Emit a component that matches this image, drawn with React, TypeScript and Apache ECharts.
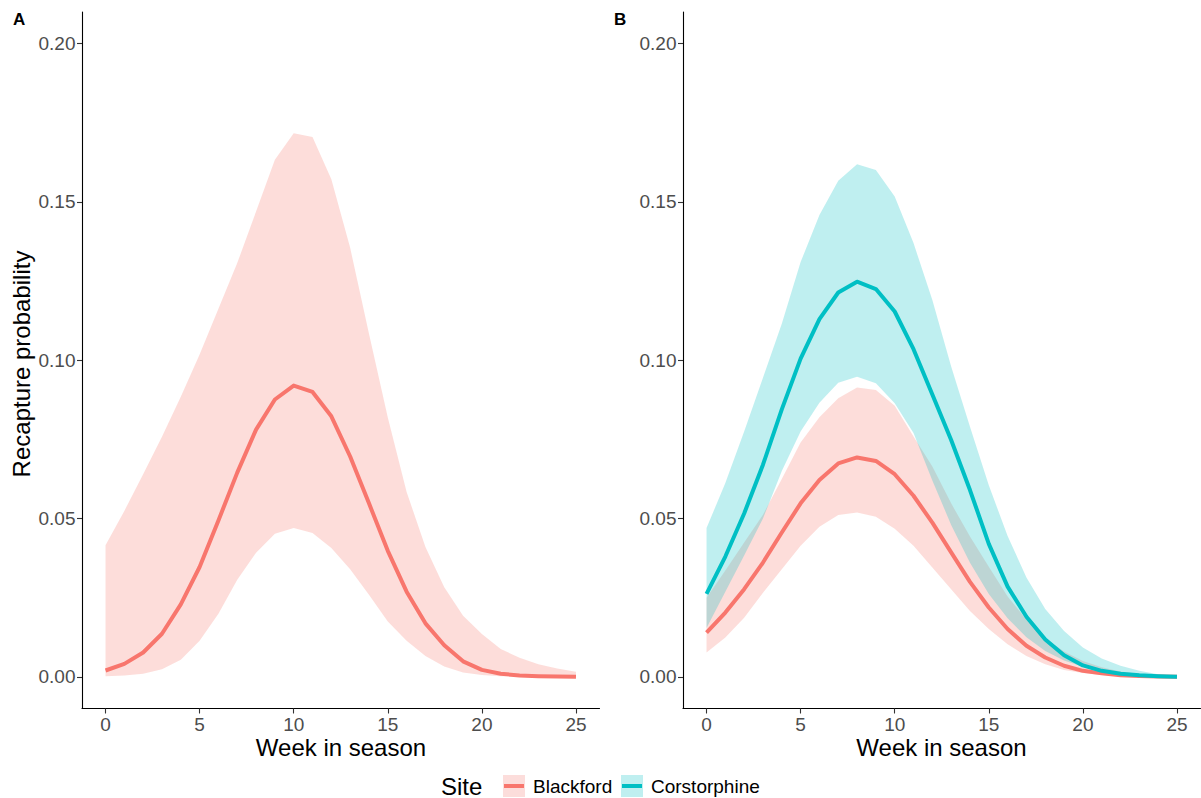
import { useEffect, useRef } from "react";
import * as echarts from "echarts";

// Weeks in season (x values shared by every series)
const weeks = [0, 1, 2, 3, 4, 5, 6, 7, 8, 9, 10, 11, 12, 13, 14, 15, 16, 17, 18, 19, 20, 21, 22, 23, 24, 25];
const xTicks = [0, 5, 10, 15, 20, 25];
const yTicks = [0, 0.05, 0.1, 0.15, 0.2];

// Panel A: Blackford only
const aBlackfordMean = [0.002, 0.0041, 0.0077, 0.0136, 0.0229, 0.0347, 0.0494, 0.0645, 0.0781, 0.0876, 0.092, 0.09, 0.0823, 0.0696, 0.0548, 0.0398, 0.0269, 0.0169, 0.01, 0.0049, 0.0022, 0.001, 0.0004, 0.0002, 0.0001, 0.0];
const aBlackfordLower = [0.0002, 0.0004, 0.001, 0.0024, 0.0054, 0.0114, 0.0199, 0.0307, 0.0392, 0.0452, 0.047, 0.0454, 0.0407, 0.034, 0.0259, 0.0175, 0.0114, 0.0066, 0.0033, 0.0014, 0.0006, 0.0002, 0.0001, 0.0, 0.0, 0.0];
const aBlackfordUpper = [0.0416, 0.0524, 0.064, 0.0758, 0.0885, 0.1018, 0.1163, 0.1307, 0.147, 0.1633, 0.1717, 0.1705, 0.1572, 0.1355, 0.1084, 0.0819, 0.0584, 0.041, 0.0283, 0.0193, 0.0135, 0.0088, 0.006, 0.004, 0.0026, 0.0016];

// Panel B: Blackford and Corstorphine
const bBlackfordMean = [0.014, 0.0203, 0.0277, 0.0361, 0.0456, 0.0548, 0.0622, 0.0674, 0.0693, 0.0682, 0.064, 0.0572, 0.0487, 0.0393, 0.03, 0.0219, 0.0151, 0.0098, 0.0061, 0.0035, 0.0019, 0.0011, 0.0005, 0.0003, 0.0001, 0.0];
const bBlackfordLower = [0.0077, 0.0124, 0.0187, 0.0266, 0.034, 0.0414, 0.0474, 0.0511, 0.0519, 0.0506, 0.0468, 0.0414, 0.0345, 0.0277, 0.0208, 0.0151, 0.0103, 0.0066, 0.004, 0.0022, 0.0012, 0.0006, 0.0003, 0.0001, 0.0, 0.0];
const bBlackfordUpper = [0.025, 0.0336, 0.0424, 0.0512, 0.0625, 0.074, 0.082, 0.088, 0.0914, 0.0906, 0.0856, 0.0759, 0.0664, 0.0548, 0.0443, 0.0348, 0.0254, 0.018, 0.0122, 0.008, 0.005, 0.003, 0.0017, 0.0009, 0.0004, 0.0002];

const bCorstorphineMean = [0.0262, 0.038, 0.0516, 0.067, 0.0845, 0.1005, 0.113, 0.1214, 0.1248, 0.1225, 0.1154, 0.1035, 0.0892, 0.0748, 0.059, 0.042, 0.0285, 0.019, 0.0118, 0.0068, 0.0036, 0.0019, 0.001, 0.0005, 0.0002, 0.0];
const bCorstorphineLower = [0.0154, 0.0269, 0.0383, 0.05, 0.065, 0.0775, 0.0866, 0.0929, 0.0948, 0.0927, 0.0864, 0.077, 0.062, 0.048, 0.036, 0.0262, 0.0185, 0.0125, 0.0082, 0.0052, 0.0032, 0.0019, 0.001, 0.0005, 0.0002, 0.0];
const bCorstorphineUpper = [0.047, 0.0612, 0.0775, 0.0945, 0.1115, 0.131, 0.1459, 0.1567, 0.1619, 0.1601, 0.1517, 0.137, 0.119, 0.098, 0.079, 0.0605, 0.0445, 0.0314, 0.0214, 0.0145, 0.0093, 0.0058, 0.0035, 0.0019, 0.0008, 0.0003];

const sites = ["Blackford", "Corstorphine"];
const panelLabels = ["A", "B"];
const xTitle = "Week in season";
const yTitle = "Recapture probability";

const FONT = '"Liberation Sans", Arial, Helvetica, sans-serif';
const RED = "#F8766D";
const TEAL = "#00BFC4";
const RED_FILL = "#FCDDDB";
const TEAL_FILL = "#BFEFF0";

const pairs = (ys: number[]) => weeks.map((w, i) => [w, ys[i]]);

// Confidence ribbon: one polygon running along the upper bound and back along the lower bound
function ribbon(panel: number, lo: number[], hi: number[], color: string) {
  return {
    type: "custom",
    xAxisIndex: panel,
    yAxisIndex: panel,
    silent: true,
    clip: true,
    data: weeks.map((w, i) => [w, lo[i], hi[i]]),
    encode: { x: 0, y: [1, 2] },
    renderItem: (params: any, api: any) => {
      if (params.dataIndex !== 0) return null;
      const top = weeks.map((w, i) => api.coord([w, hi[i]]));
      const bottom = weeks.map((w, i) => api.coord([w, lo[i]])).reverse();
      return {
        type: "polygon",
        shape: { points: [...top, ...bottom] },
        style: { fill: color, opacity: 0.25 },
      };
    },
  };
}

function meanLine(panel: number, ys: number[], color: string) {
  return {
    type: "line",
    xAxisIndex: panel,
    yAxisIndex: panel,
    data: pairs(ys),
    symbol: "none",
    silent: true,
    lineStyle: { width: 4, color, cap: "butt", join: "round" },
  };
}

const GRID_TOP = 12;
const GRID_H = 696.5;
const GRID_W = 517.5;
const GRID_LEFTS = [82, 683];

function xAxisFor(panel: number) {
  return {
    type: "value",
    gridIndex: panel,
    min: -1.25,
    max: 26.25,
    splitLine: { show: false },
    axisLine: { show: true, onZero: false, lineStyle: { color: "#000", width: 1.1 } },
    axisTick: { show: true, customValues: xTicks, length: 5, lineStyle: { color: "#333", width: 1.1 } },
    axisLabel: { customValues: xTicks, color: "#4D4D4D", fontSize: 19, fontFamily: FONT, margin: 6 },
  };
}

function yAxisFor(panel: number) {
  return {
    type: "value",
    gridIndex: panel,
    min: -0.01,
    max: 0.21,
    splitLine: { show: false },
    axisLine: { show: true, onZero: false, lineStyle: { color: "#000", width: 1.1 } },
    axisTick: { show: true, customValues: yTicks, length: 5, lineStyle: { color: "#333", width: 1.1 } },
    axisLabel: {
      customValues: yTicks,
      color: "#4D4D4D",
      fontSize: 19,
      fontFamily: FONT,
      margin: 6.5,
      formatter: (v: number) => v.toFixed(2),
    },
  };
}

function legendKey(x: number, fill: string, stroke: string) {
  return [
    { type: "rect", shape: { x, y: 775, width: 22, height: 22 }, style: { fill }, silent: true },
    { type: "line", shape: { x1: x + 1, y1: 786, x2: x + 21, y2: 786 }, style: { stroke, lineWidth: 4 }, silent: true },
  ];
}

export default function App() {
  const ref = useRef<HTMLDivElement>(null);

  useEffect(() => {
    if (!ref.current) return;
    const chart = echarts.init(ref.current, undefined, { renderer: "svg" });

    const text = (x: number, y: number, t: string, size: number, extra: any = {}) => ({
      type: "text",
      x,
      y,
      silent: true,
      style: {
        text: t,
        fontSize: size,
        fontFamily: FONT,
        fill: "#000",
        align: "center",
        verticalAlign: "middle",
        ...extra,
      },
    });

    chart.setOption({
      animation: false,
      backgroundColor: "#ffffff",
      grid: GRID_LEFTS.map((left) => ({ left, top: GRID_TOP, width: GRID_W, height: GRID_H, containLabel: false })),
      xAxis: [xAxisFor(0), xAxisFor(1)],
      yAxis: [yAxisFor(0), yAxisFor(1)],
      series: [
        ribbon(0, aBlackfordLower, aBlackfordUpper, RED),
        meanLine(0, aBlackfordMean, RED),
        ribbon(1, bBlackfordLower, bBlackfordUpper, RED),
        ribbon(1, bCorstorphineLower, bCorstorphineUpper, TEAL),
        meanLine(1, bBlackfordMean, RED),
        meanLine(1, bCorstorphineMean, TEAL),
      ],
      graphic: [
        text(13, 19, panelLabels[0], 17, { align: "left", fontWeight: "bold" }),
        text(614, 19, panelLabels[1], 17, { align: "left", fontWeight: "bold" }),
        text(341, 747, xTitle, 24),
        text(941.5, 747, xTitle, 24),
        { ...text(21, 364, yTitle, 24), rotation: Math.PI / 2 },
        text(441, 786, "Site", 24, { align: "left" }),
        ...legendKey(503, RED_FILL, RED),
        text(533, 786, sites[0], 19, { align: "left" }),
        ...legendKey(621, TEAL_FILL, TEAL),
        text(651, 786, sites[1], 19, { align: "left" }),
      ],
    });

    return () => chart.dispose();
  }, []);

  return (
    <div
      ref={ref}
      style={{ position: "fixed", left: 0, top: 0, width: 1201, height: 798, background: "#fff" }}
    />
  );
}
